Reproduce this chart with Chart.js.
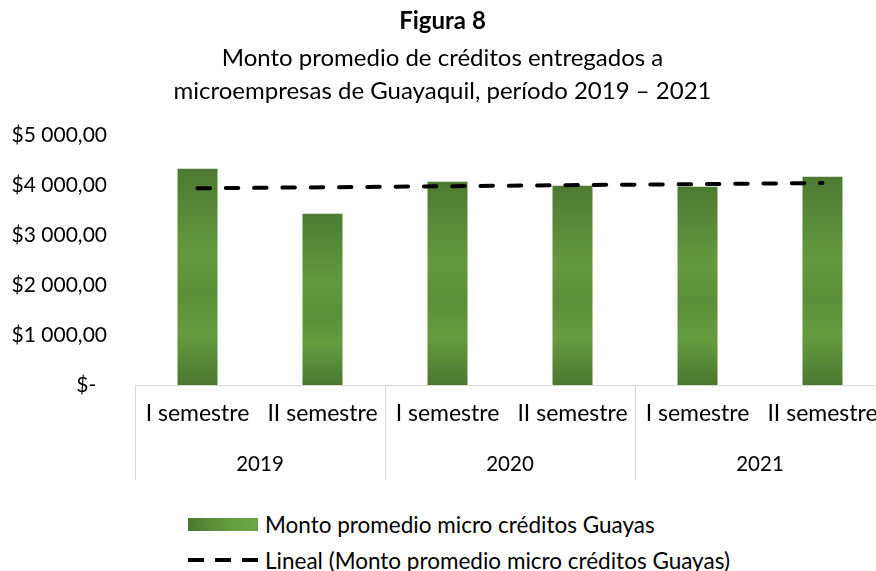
<!DOCTYPE html>
<html lang="es">
<head>
<meta charset="utf-8">
<script src="https://cdn.jsdelivr.net/npm/chart.js@4/dist/chart.umd.min.js"></script>
<style>
  html, body { margin: 0; padding: 0; background: #fff; overflow: hidden; }
  body { width: 876px; height: 571px; position: relative; }
  .bar-chart { position: absolute; left: 0; top: 0; width: 900px; height: 490px; }
  .bar-chart__legend {
    position: absolute; left: 188px; top: 510px;
    font-family: 'Lato', sans-serif; font-size: 22.5px; color: #000;
  }
  .bar-chart__legend-item { display: flex; align-items: center; height: 28px; margin-bottom: 8px; }
  .bar-chart__swatch { width: 70px; height: 13px; margin-right: 7px; flex: none; }
  .bar-chart__swatch--bar {
    background: linear-gradient(to right, #4c772f 0%, #5d9139 40%, #64a03f 65%, #6aa545 100%);
  }
  .bar-chart__swatch--line {
    height: 4px;
    background: repeating-linear-gradient(to right, #000 0 16px, transparent 16px 27px);
  }
</style>
</head>
<body>
<div class="bar-chart">
  <canvas></canvas>
</div>
<div class="bar-chart__legend">
  <div class="bar-chart__legend-item"><span class="bar-chart__swatch bar-chart__swatch--bar"></span>Monto promedio micro créditos Guayas</div>
  <div class="bar-chart__legend-item"><span class="bar-chart__swatch bar-chart__swatch--line"></span>Lineal (Monto promedio micro créditos Guayas)</div>
</div>
<script>
const categories = ['I semestre', 'II semestre', 'I semestre', 'II semestre', 'I semestre', 'II semestre']
const years = ['2019', '2020', '2021']
const montoPromedio = [4320, 3420, 4060, 3980, 3960, 4160]
// tendencia lineal: solo los extremos
const tendenciaLineal = [3930, null, null, null, null, 4036]
const yTickLabels = ['$-', '$1 000,00', '$2 000,00', '$3 000,00', '$4 000,00', '$5 000,00']

const FONT = '\'Lato\', sans-serif'
const TEXT = '#000000'
const AXIS = '#d9d9d9'

function barGradient(ctx) {
  const chart = ctx.chart
  const y = chart.scales.y
  if (!chart.chartArea || !y || ctx.raw == null) return '#5a8f38'
  const top = y.getPixelForValue(ctx.raw)
  const bottom = y.getPixelForValue(0)
  const g = chart.ctx.createLinearGradient(0, top, 0, bottom)
  g.addColorStop(0, '#4d7a31')
  g.addColorStop(0.4, '#64993f')
  g.addColorStop(0.58, '#5a8e38')
  g.addColorStop(0.76, '#659c40')
  g.addColorStop(1, '#4b772f')
  return g
}

// separadores y años debajo de los semestres
const yearAxisPlugin = {
  id: 'yearAxis',
  afterDraw(chart) {
    const x = chart.scales.x
    const c = chart.ctx
    const half = (x.getPixelForValue(1) - x.getPixelForValue(0)) / 2
    const perYear = categories.length / years.length
    c.save()
    c.strokeStyle = AXIS
    c.lineWidth = 1
    for (let i = 0; i <= years.length; i++) {
      const idx = i * perYear
      const px = Math.round(x.getPixelForValue(Math.min(idx, categories.length - 1)) + (idx >= categories.length ? half : -half)) + 0.5
      c.beginPath()
      c.moveTo(px, x.top)
      c.lineTo(px, x.bottom)
      c.stroke()
    }
    c.fillStyle = TEXT
    c.font = `20.5px ${FONT}`
    c.textAlign = 'center'
    c.textBaseline = 'middle'
    years.forEach((year, i) => {
      const a = x.getPixelForValue(i * perYear)
      const b = x.getPixelForValue(i * perYear + perYear - 1)
      c.fillText(year, (a + b) / 2, x.top + 79)
    })
    c.restore()
  }
}

const canvas = document.querySelector('.bar-chart canvas')

new Chart(canvas, {
  data: {
    labels: categories,
    datasets: [
      {
        type: 'line',
        label: 'Lineal (Monto promedio micro créditos Guayas)',
        data: tendenciaLineal,
        borderColor: '#000000',
        borderWidth: 4,
        borderDash: [12.5, 15.8],
        borderCapStyle: 'round',
        pointRadius: 0,
        spanGaps: true,
        fill: false,
        order: 0
      },
      {
        type: 'bar',
        label: 'Monto promedio micro créditos Guayas',
        data: montoPromedio,
        backgroundColor: barGradient,
        borderWidth: 0,
        barPercentage: 0.32,
        categoryPercentage: 1,
        order: 1
      }
    ]
  },
  options: {
    responsive: true,
    maintainAspectRatio: false,
    animation: false,
    layout: {
      padding: { left: 0, right: 15, top: 0, bottom: 10 }
    },
    scales: {
      x: {
        offset: true,
        grid: { display: false, drawTicks: false },
        border: { display: true, color: AXIS, width: 1 },
        ticks: {
          color: TEXT,
          font: { family: FONT, size: 23 },
          padding: 15,
          maxRotation: 0,
          autoSkip: false
        },
        afterFit: (axis) => { axis.height = 95 }
      },
      y: {
        min: 0,
        max: 5000,
        grid: { display: false, drawTicks: false },
        border: { display: false },
        ticks: {
          stepSize: 1000,
          color: TEXT,
          font: { family: FONT, size: 21 },
          padding: 28,
          callback: (value, index) => yTickLabels[index] + (value === 0 ? '  ' : '')
        },
        afterFit: (axis) => { axis.width = 135 }
      }
    },
    plugins: {
      legend: { display: false },
      tooltip: { enabled: false },
      title: {
        display: true,
        text: 'Figura 8',
        color: TEXT,
        font: { family: FONT, size: 24, weight: 'bold', lineHeight: 1.2 },
        padding: { top: 7, bottom: 0 }
      },
      subtitle: {
        display: true,
        text: [
          'Monto promedio de créditos entregados a',
          'microempresas de Guayaquil, período 2019 – 2021'
        ],
        color: TEXT,
        font: { family: FONT, size: 24, lineHeight: 1.375 },
        padding: { top: 6, bottom: 27 }
      }
    }
  },
  plugins: [yearAxisPlugin]
})
</script>
</body>
</html>
